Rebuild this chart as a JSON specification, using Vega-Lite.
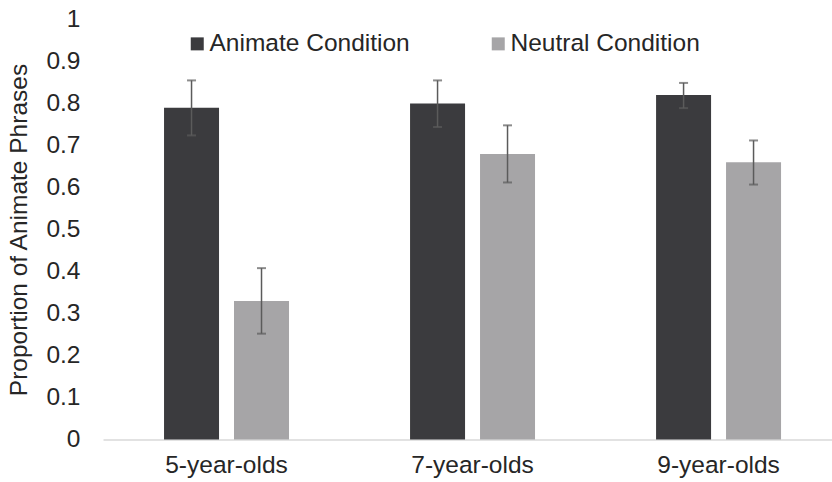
{
  "$schema": "https://vega.github.io/schema/vega-lite/v6.json",
  "width": 729,
  "height": 420,
  "autosize": "none",
  "padding": {"left": 103, "top": 19.5, "right": 0, "bottom": 42.5},
  "background": "white",
  "config": {
    "view": {"stroke": null},
    "font": "Liberation Sans"
  },
  "data": {
    "values": [
      {"age": "5-year-olds", "condition": "Animate Condition", "value": 0.79, "lo": 0.724, "hi": 0.855},
      {"age": "5-year-olds", "condition": "Neutral Condition", "value": 0.33, "lo": 0.252, "hi": 0.408},
      {"age": "7-year-olds", "condition": "Animate Condition", "value": 0.80, "lo": 0.744, "hi": 0.855},
      {"age": "7-year-olds", "condition": "Neutral Condition", "value": 0.68, "lo": 0.612, "hi": 0.748},
      {"age": "9-year-olds", "condition": "Animate Condition", "value": 0.82, "lo": 0.789, "hi": 0.849},
      {"age": "9-year-olds", "condition": "Neutral Condition", "value": 0.66, "lo": 0.607, "hi": 0.712}
    ]
  },
  "encoding": {
    "x": {
      "field": "age", "type": "nominal",
      "scale": {"paddingInner": 0.492, "paddingOuter": 0.2276, "align": 0.545},
      "axis": {
        "title": null, "labelAngle": 0, "ticks": false, "tickSize": 0,
        "domainColor": "#d9d9d9", "domainWidth": 1.5,
        "labelFontSize": 24.5, "labelColor": "#262626", "labelPadding": 14,
        "labelFont": "Liberation Sans"
      }
    },
    "xOffset": {
      "field": "condition", "type": "nominal",
      "scale": {"paddingInner": 0.214, "paddingOuter": 0}
    }
  },
  "layer": [
    {
      "mark": {"type": "bar"},
      "encoding": {
        "y": {
          "field": "value", "type": "quantitative",
          "scale": {"domain": [0, 1], "nice": false},
          "axis": {
            "title": "Proportion of Animate Phrases",
            "titleFontSize": 24.5, "titleFontWeight": "normal", "titleColor": "#262626",
            "titlePadding": 14,
            "values": [0, 0.1, 0.2, 0.3, 0.4, 0.5, 0.6, 0.7, 0.8, 0.9, 1],
            "labelExpr": "datum.value == 0 ? '0' : datum.value == 1 ? '1' : format(datum.value, '.1f')",
            "grid": false, "domain": false, "ticks": false, "tickSize": 0,
            "labelFontSize": 24.5, "labelColor": "#262626", "labelPadding": 23
          }
        },
        "color": {
          "field": "condition", "type": "nominal",
          "scale": {"domain": ["Animate Condition", "Neutral Condition"], "range": ["#3b3b3e", "#a6a5a7"]},
          "legend": {
            "orient": "none", "legendX": 82, "legendY": 12, "direction": "horizontal",
            "title": null, "symbolType": "square", "symbolSize": 169,
            "symbolStrokeWidth": 0, "labelFontSize": 24.5, "labelColor": "#262626",
            "columnPadding": 76, "labelOffset": 0, "labelLimit": 0
          }
        }
      }
    },
    {
      "mark": {"type": "rule", "color": "#5b5b5b", "strokeWidth": 1.5},
      "encoding": {
        "y": {"field": "lo", "type": "quantitative"},
        "y2": {"field": "hi"}
      }
    },
    {
      "mark": {"type": "tick", "color": "#5b5b5b", "thickness": 2, "size": 9},
      "encoding": {"y": {"field": "lo", "type": "quantitative"}}
    },
    {
      "mark": {"type": "tick", "color": "#5b5b5b", "thickness": 2, "size": 9},
      "encoding": {"y": {"field": "hi", "type": "quantitative"}}
    }
  ]
}
